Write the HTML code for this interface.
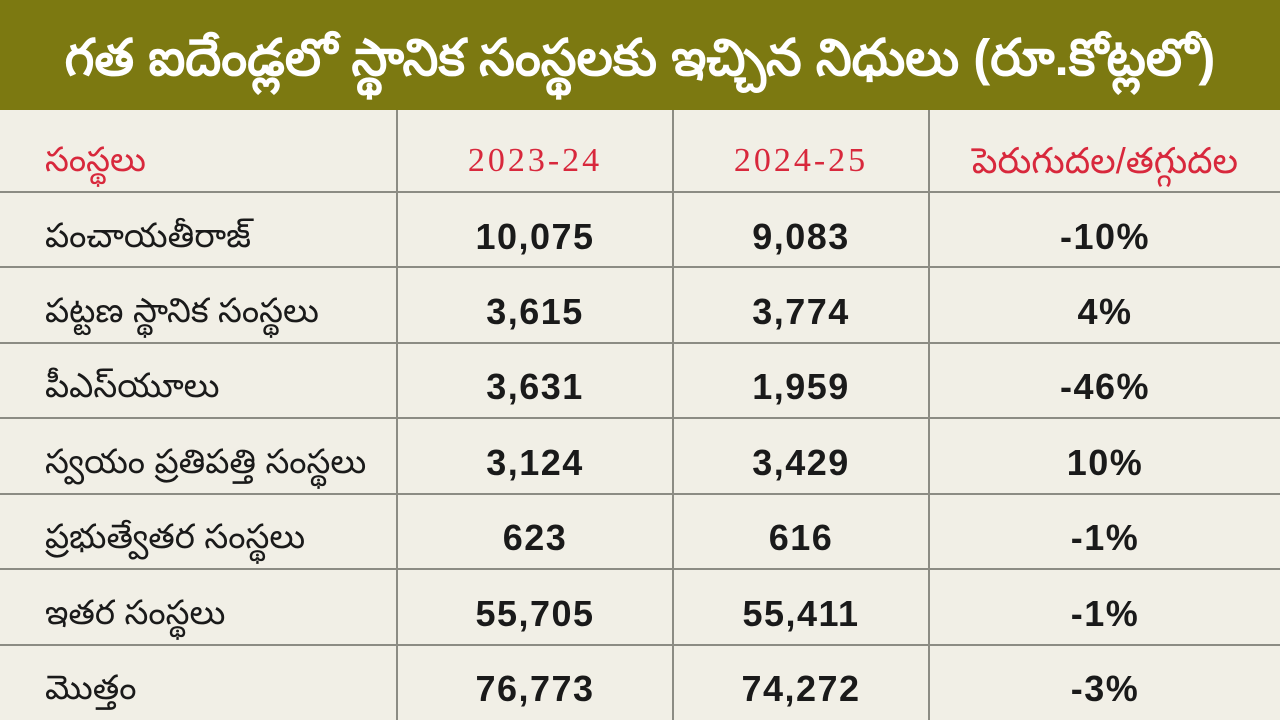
<!DOCTYPE html>
<html><head><meta charset="utf-8"><style>
html,body{margin:0;width:1280px;height:720px;overflow:hidden}
body{background:#f1efe6;font-family:"Liberation Sans","Noto Sans CJK SC",sans-serif;position:relative}
.title{position:absolute;left:0;top:0;width:1280px;height:110px;background:#7c7911;color:#fff;font-size:51px;text-align:center;line-height:116px;font-weight:bold}
.h{position:absolute;top:110px;height:610px;width:2px;background:#8c8c84}
.v{position:absolute;left:0;width:1280px;height:2px;background:#8c8c84}
.c{position:absolute;height:75px;line-height:75px;font-size:34px;color:#1a1a1a}
.n{font-weight:bold;text-align:center;font-size:36px;letter-spacing:1.5px}
.r{color:#d8283c;font-family:"Liberation Serif",serif;font-size:34px}
</style></head><body>
<div class="title">గత ఐదేండ్లలో స్థానిక సంస్థలకు ఇచ్చిన నిధులు (రూ.కోట్లలో)</div>
<div class="h" style="left:396px"></div>
<div class="h" style="left:672px"></div>
<div class="h" style="left:928px"></div>
<div class="v" style="top:191px"></div>
<div class="v" style="top:266px"></div>
<div class="v" style="top:342px"></div>
<div class="v" style="top:417px"></div>
<div class="v" style="top:493px"></div>
<div class="v" style="top:568px"></div>
<div class="v" style="top:644px"></div>

<div class="c r" style="left:45px;top:123px;font-family:'Liberation Sans',sans-serif">సంస్థలు</div>
<div class="c r n" style="left:398px;width:274px;top:123px;font-weight:normal;letter-spacing:3px">2023-24</div>
<div class="c r n" style="left:674px;width:254px;top:123px;font-weight:normal;letter-spacing:3px">2024-25</div>
<div class="c r n" style="left:930px;width:350px;top:123px;font-weight:normal;font-family:'Liberation Sans',sans-serif;font-size:36px;letter-spacing:0">పెరుగుదల/తగ్గుదల</div>

<div class="c" style="left:45px;top:199px">పంచాయతీరాజ్</div>
<div class="c n" style="left:398px;width:274px;top:199px">10,075</div>
<div class="c n" style="left:674px;width:254px;top:199px">9,083</div>
<div class="c n" style="left:930px;width:350px;top:199px">-10%</div>

<div class="c" style="left:45px;top:274px">పట్టణ స్థానిక సంస్థలు</div>
<div class="c n" style="left:398px;width:274px;top:274px">3,615</div>
<div class="c n" style="left:674px;width:254px;top:274px">3,774</div>
<div class="c n" style="left:930px;width:350px;top:274px">4%</div>

<div class="c" style="left:45px;top:349px">పీఎస్‌యూలు</div>
<div class="c n" style="left:398px;width:274px;top:349px">3,631</div>
<div class="c n" style="left:674px;width:254px;top:349px">1,959</div>
<div class="c n" style="left:930px;width:350px;top:349px">-46%</div>

<div class="c" style="left:45px;top:425px">స్వయం ప్రతిపత్తి సంస్థలు</div>
<div class="c n" style="left:398px;width:274px;top:425px">3,124</div>
<div class="c n" style="left:674px;width:254px;top:425px">3,429</div>
<div class="c n" style="left:930px;width:350px;top:425px">10%</div>

<div class="c" style="left:45px;top:500px">ప్రభుత్వేతర సంస్థలు</div>
<div class="c n" style="left:398px;width:274px;top:500px">623</div>
<div class="c n" style="left:674px;width:254px;top:500px">616</div>
<div class="c n" style="left:930px;width:350px;top:500px">-1%</div>

<div class="c" style="left:45px;top:576px">ఇతర సంస్థలు</div>
<div class="c n" style="left:398px;width:274px;top:576px">55,705</div>
<div class="c n" style="left:674px;width:254px;top:576px">55,411</div>
<div class="c n" style="left:930px;width:350px;top:576px">-1%</div>

<div class="c" style="left:45px;top:651px">మొత్తం</div>
<div class="c n" style="left:398px;width:274px;top:651px">76,773</div>
<div class="c n" style="left:674px;width:254px;top:651px">74,272</div>
<div class="c n" style="left:930px;width:350px;top:651px">-3%</div>
</body></html>
